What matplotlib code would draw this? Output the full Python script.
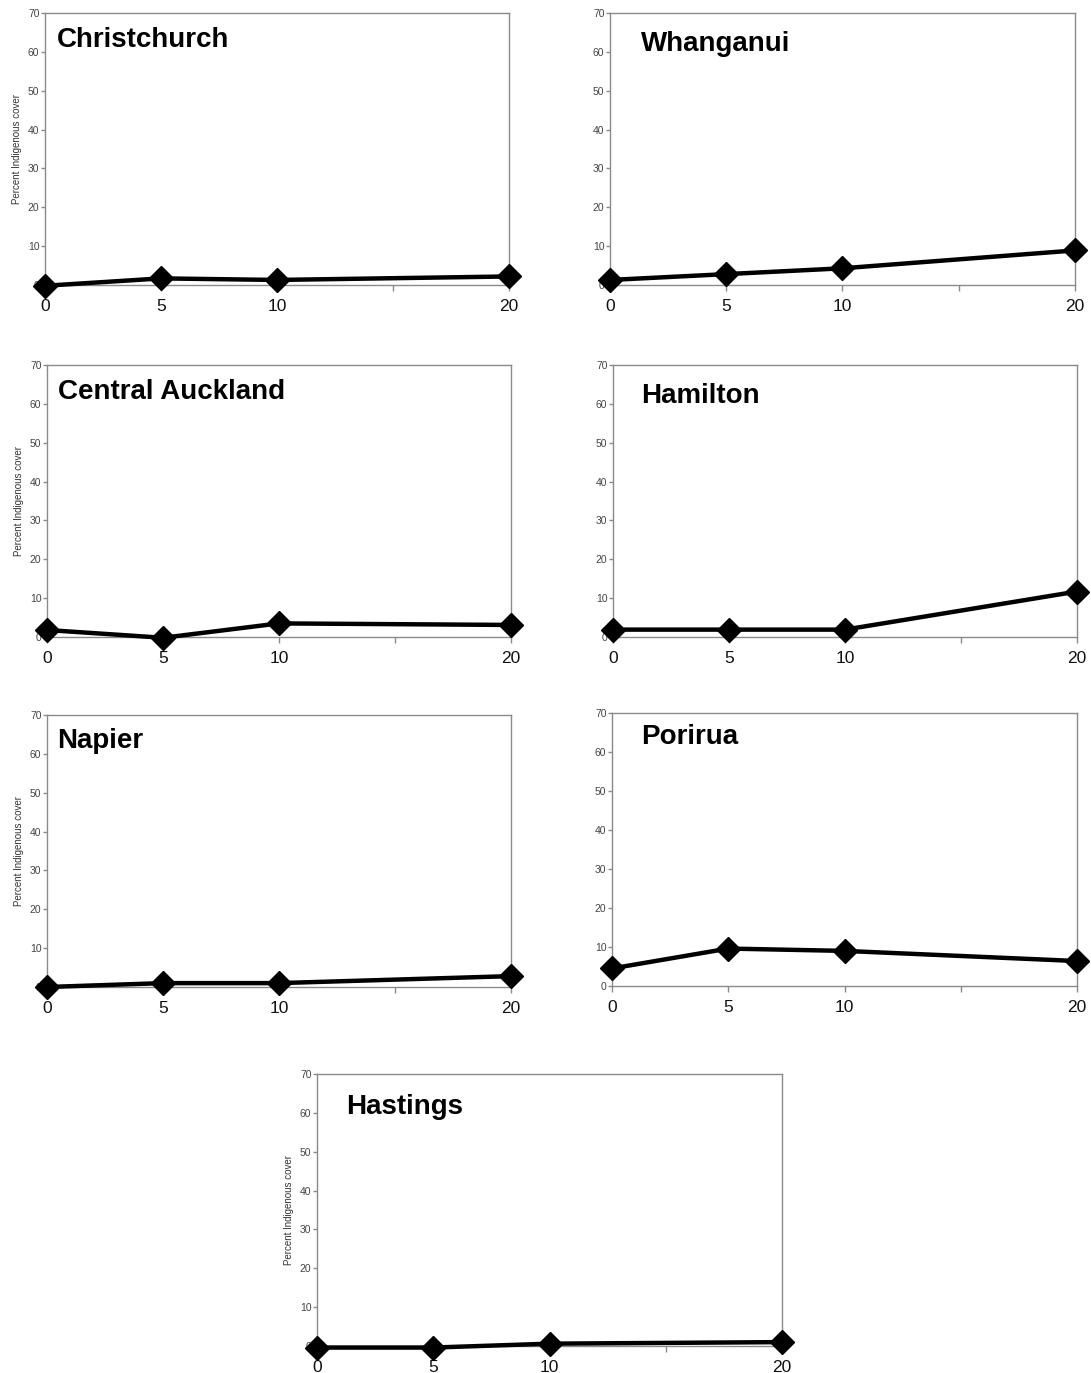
""" Percent indigenous cover over time for seven New Zealand cities.
"""
import matplotlib
matplotlib.use("Agg")
import matplotlib.pyplot as plt

plt.rcParams["font.family"] = ["Liberation Sans", "DejaVu Sans"]

# * Data
YEARS = [0, 5, 10, 20]
CITIES = ["Christchurch", "Whanganui", "Central Auckland", "Hamilton",
          "Napier", "Porirua", "Hastings"]
christchurch = [-0.2, 1.7, 1.3, 2.2]
whanganui = [1.3, 2.8, 4.3, 8.9]
central_auckland = [1.8, -0.2, 3.5, 3.1]
hamilton = [1.9, 1.9, 1.9, 11.7]
napier = [0.0, 1.0, 1.0, 2.8]
porirua = [4.5, 9.6, 9.0, 6.4]
hastings = [-0.4, -0.4, 0.6, 1.0]
SERIES = [christchurch, whanganui, central_auckland, hamilton,
          napier, porirua, hastings]

X_TICKS = [0, 5, 10, 15, 20]
X_TICK_LABELS = ["0", "5", "10", "", "20"]
Y_TICKS = [0, 10, 20, 30, 40, 50, 60, 70]
Y_LABEL = "Percent Indigenous cover"

W, H = 1091, 1373
# panel boxes in pixels: left, right, top, bottom
BOXES = [
    (45, 509, 13, 285),
    (610, 1075, 13, 285),
    (47, 511, 365, 637),
    (613, 1077, 365, 637),
    (47, 511, 715, 987),
    (612, 1077, 713, 986),
    (317, 782, 1074, 1346),
]
# title anchor in pixels (left x, centre y)
TITLE_POS = [(57, 40), (641, 44), (58, 392), (641, 396),
             (57, 741), (641, 737), (346, 1107)]
HAS_YLABEL = [True, False, True, False, True, False, True]


if __name__ == "__main__":

    fig = plt.figure(figsize=(W / 100, H / 100), dpi=100)

    for i, city in enumerate(CITIES):
        left, right, top, bottom = BOXES[i]
        ax = fig.add_axes([left / W, 1 - bottom / H,
                           (right - left) / W, (bottom - top) / H])

        ax.plot(YEARS, SERIES[i], color="black", lw=3.2, marker="D",
                markersize=12, clip_on=False, zorder=5)

        ax.set_xlim(0, 20)
        ax.set_ylim(0, 70)
        ax.set_xticks(X_TICKS)
        ax.set_xticklabels(X_TICK_LABELS)
        ax.set_yticks(Y_TICKS)

        for side in ["left", "right", "top", "bottom"]:
            ax.spines[side].set_color("#8a8a8a")
            ax.spines[side].set_linewidth(1.0)
        ax.tick_params(axis="x", length=4, width=1, color="#8a8a8a",
                       labelsize=12.5, labelcolor="#111111", pad=6)
        ax.tick_params(axis="y", length=3, width=1, color="#8a8a8a",
                       labelsize=7.5, labelcolor="#444444", pad=1)

        if HAS_YLABEL[i]:
            ax.set_ylabel(Y_LABEL, fontsize=7, color="#333333", labelpad=4)

        tx, ty = TITLE_POS[i]
        fig.text(tx / W, 1 - ty / H, city, fontsize=20, fontweight="bold",
                 ha="left", va="center", color="black")

    plt.savefig("out.png", dpi=100)
    plt.close()
